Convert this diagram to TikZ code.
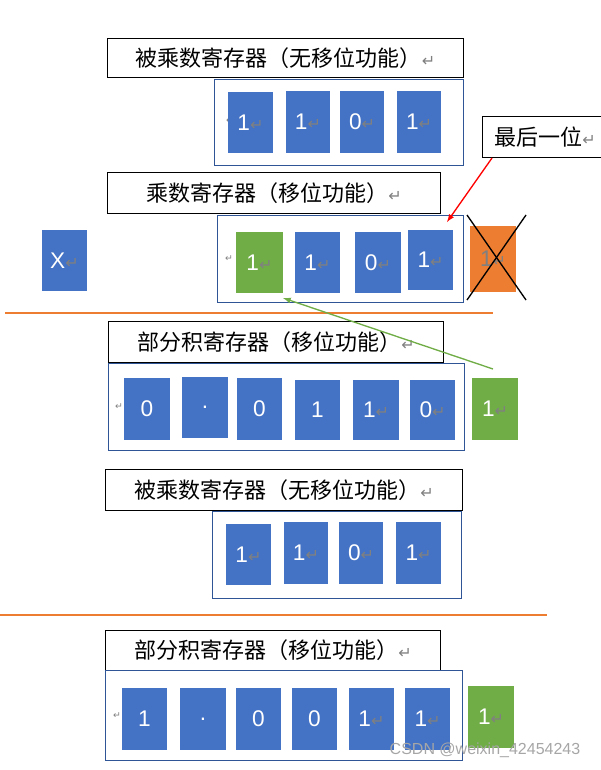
\documentclass[tikz,border=0pt]{standalone}
\usepackage{fontspec}
\setmainfont{Liberation Sans}
\newfontfamily\cjk{Noto Sans CJK SC}
\newfontfamily\dejavu{DejaVu Sans}
\definecolor{cblue}{HTML}{4472C4}
\definecolor{cgreen}{HTML}{70AD47}
\definecolor{corange}{HTML}{ED7D31}
\definecolor{cframe}{HTML}{2F5597}
\newcommand\ret{{\dejavu\color{gray}\fontsize{12}{12}\selectfont ↵}}
\newcommand\sret{{\dejavu\color{gray}\fontsize{7}{7}\selectfont ↵}}
\newcommand\bx[7]{\node[sqbox, fill=#6, minimum width={(#3-#1)*0.75pt}, minimum height={(#4-#2)*0.75pt}] (#7) at ({(#1+#3)/2},{(#2+#4)/2}) {#5};}
\newcommand\fr[5]{\node[frbox, minimum width={(#3-#1)*0.75pt}, minimum height={(#4-#2)*0.75pt}] (#5) at ({(#1+#3)/2},{(#2+#4)/2}) {};}
\newcommand\lb[6]{\node[lbbox, minimum width={(#3-#1)*0.75pt}, minimum height={(#4-#2)*0.75pt}] (#6) at ({(#1+#3)/2},{(#2+#4)/2}) {\hspace*{4pt}\cjk #5\ret\hfill};}
\tikzset{
 sqbox/.style={inner sep=0, text=white, font=\fontsize{17}{20}\selectfont},
 frbox/.style={draw=cframe, line width=0.6pt, inner sep=0},
 lbbox/.style={draw=black, line width=0.8pt, inner sep=0, font=\fontsize{16.5}{20}\selectfont, text width={(#1)}},
 lbbox/.default=0pt
}
\begin{document}
\begin{tikzpicture}[x=0.75pt,y=-0.75pt]
\useasboundingbox (0,0) rectangle (600,770);
% labels
\node[draw,line width=0.8pt,minimum width=356*0.75pt,minimum height=39*0.75pt,inner sep=0,anchor=north west,font=\fontsize{16.5}{20}\selectfont] (l1) at (107,38) {\cjk 被乘数寄存器（无移位功能）\ret};
\fr{214}{79}{463}{165}{f1}
\node at (230,121) (r1) {\sret};
\bx{228}{92}{273}{153}{1\ret}{cblue}{a1}
\bx{286}{91}{330}{153}{1\ret}{cblue}{a2}
\bx{340}{91}{384}{153}{0\ret}{cblue}{a3}
\bx{397}{91}{441}{153}{1\ret}{cblue}{a4}
\node[draw,line width=0.8pt,minimum width=125*0.75pt,minimum height=41*0.75pt,inner sep=0,anchor=north west,font=\fontsize{16.5}{20}\selectfont] (last) at (482,116) {\cjk 最后一位\ret};
\node[draw,line width=0.8pt,minimum width=333*0.75pt,minimum height=41*0.75pt,inner sep=0,anchor=north west,font=\fontsize{16.5}{20}\selectfont] (l2) at (107,172) {\cjk 乘数寄存器（移位功能）\ret};
\bx{42}{230}{87}{291}{X\ret}{cblue}{xx}
\fr{217}{215}{463}{302}{f2}
\node at (229,259) (r2) {\sret};
\bx{236}{232}{283}{293}{1\ret}{cgreen}{b1}
\bx{295}{232}{340}{293}{1\ret}{cblue}{b2}
\bx{355}{232}{401}{293}{0\ret}{cblue}{b3}
\bx{408}{230}{453}{290}{1\ret}{cblue}{b4}
\bx{470}{226}{516}{292}{\textcolor{gray}{1}\ret}{corange}{b5}
\coordinate (c1) at (467,215); \coordinate (c2) at (526,300);
\coordinate (c3) at (526,215); \coordinate (c4) at (467,300);
\draw[line width=1pt] (c1) -- (c2); \draw[line width=1pt] (c3) -- (c4);
\coordinate (ar1) at (492,158); \coordinate (ar2) at (447,222);
\draw[red,line width=1pt,-latex] (ar1) -- (ar2);
\coordinate (o1) at (5,313); \coordinate (o2) at (493,313);
\draw[corange,line width=1.2pt] (o1) -- (o2);
\node[draw,line width=0.8pt,minimum width=335*0.75pt,minimum height=41*0.75pt,inner sep=0,anchor=north west,font=\fontsize{16.5}{20}\selectfont] (l3) at (108,321) {\cjk 部分积寄存器（移位功能）\ret};
\fr{108}{363}{464}{450}{f3}
\node at (119,407) (r3) {\sret};
\bx{124}{378}{170}{440}{0}{cblue}{p1}
\bx{182}{377}{228}{438}{.}{cblue}{p2}
\bx{237}{378}{282}{440}{0}{cblue}{p3}
\bx{295}{380}{340}{440}{1}{cblue}{p4}
\bx{353}{380}{399}{440}{1\ret}{cblue}{p5}
\bx{410}{380}{455}{440}{0\ret}{cblue}{p6}
\bx{472}{378}{518}{440}{1\ret}{cgreen}{p7}
\coordinate (g1) at (493,369); \coordinate (g2) at (283,298);
\draw[cgreen,line width=1pt,-latex] (g1) -- (g2);
\node[draw,line width=0.8pt,minimum width=357*0.75pt,minimum height=41*0.75pt,inner sep=0,anchor=north west,font=\fontsize{16.5}{20}\selectfont] (l4) at (105,469) {\cjk 被乘数寄存器（无移位功能）\ret};
\fr{212}{511}{461}{598}{f4}
\bx{226}{524}{271}{585}{1\ret}{cblue}{d1}
\bx{284}{522}{328}{584}{1\ret}{cblue}{d2}
\bx{339}{522}{383}{584}{0\ret}{cblue}{d3}
\bx{396}{522}{441}{584}{1\ret}{cblue}{d4}
\coordinate (o3) at (0,615); \coordinate (o4) at (547,615);
\draw[corange,line width=2.2pt] (o3) -- (o4);
\node[draw,line width=0.8pt,minimum width=335*0.75pt,minimum height=40*0.75pt,inner sep=0,anchor=north west,font=\fontsize{16.5}{20}\selectfont] (l5) at (105,630) {\cjk 部分积寄存器（移位功能）\ret};
\fr{105}{670}{462}{760}{f5}
\node at (117,716) (r5) {\sret};
\bx{122}{688}{167}{750}{1}{cblue}{e1}
\bx{180}{688}{226}{750}{.}{cblue}{e2}
\bx{236}{688}{281}{750}{0}{cblue}{e3}
\bx{292}{688}{337}{750}{0}{cblue}{e4}
\bx{349}{688}{394}{750}{1\ret}{cblue}{e5}
\bx{405}{688}{450}{750}{1\ret}{cblue}{e6}
\bx{468}{686}{514}{748}{1\ret}{cgreen}{e7}
\node[text=gray!70,anchor=east,font=\fontsize{12}{14}\selectfont] (wm) at (585,750) {CSDN @weixin\_42454243};
\end{tikzpicture}
\end{document}
